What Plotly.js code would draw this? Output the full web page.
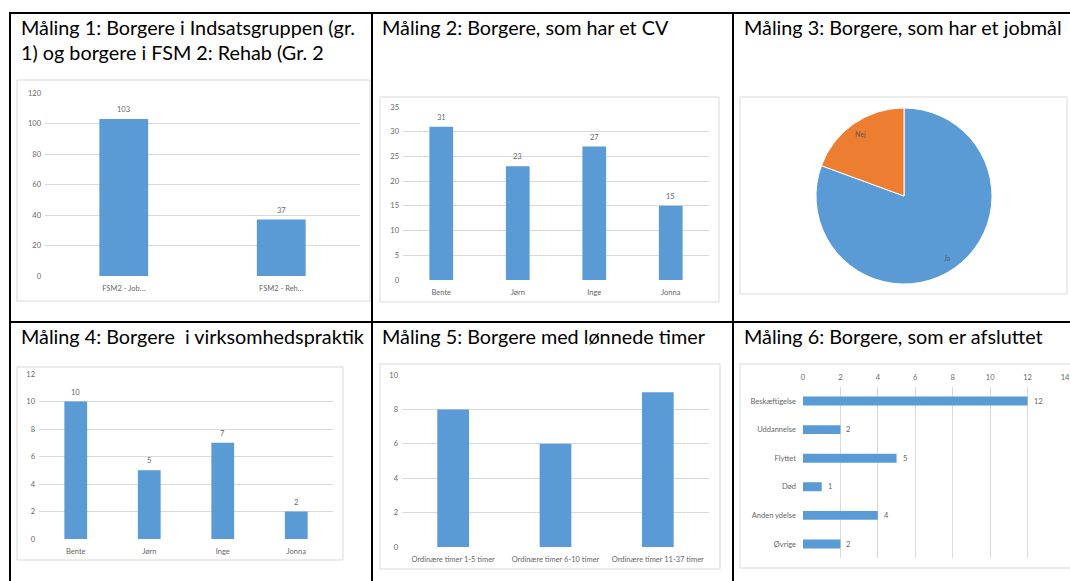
<!DOCTYPE html>
<html>
<head>
<meta charset="utf-8">
<script src="https://cdn.plot.ly/plotly-3.0.1.min.js"></script>
<style>html,body{margin:0;padding:0;background:#fff;}#chart{width:1070px;height:581px;}</style>
</head>
<body>
<div id="chart"></div>
<script>
// ---- Data ----
const titles = [
  ["Måling 1: Borgere i Indsatsgruppen (gr.", "1) og borgere i FSM 2: Rehab (Gr. 2"],
  ["Måling 2: Borgere, som har et CV"],
  ["Måling 3: Borgere, som har et jobmål"],
  ["Måling 4: Borgere  i virksomhedspraktik"],
  ["Måling 5: Borgere med lønnede timer"],
  ["Måling 6: Borgere, som er afsluttet"]
];
const m1Categories = ["FSM2 - Job…", "FSM2 - Reh…"];
const m1Values = [103, 37];
const m2Categories = ["Bente", "Jørn", "Inge", "Jonna"];
const m2Values = [31, 23, 27, 15];
const m3Labels = ["Ja", "Nej"];
const m3Values = [80.6, 19.4];
const m4Categories = ["Bente", "Jørn", "Inge", "Jonna"];
const m4Values = [10, 5, 7, 2];
const m5Categories = ["Ordinære timer 1-5 timer", "Ordinære timer 6-10 timer", "Ordinære timer 11-37 timer"];
const m5Values = [8, 6, 9];
const m6Categories = ["Beskæftigelse", "Uddannelse", "Flyttet", "Død", "Anden ydelse", "Øvrige"];
const m6Values = [12, 2, 5, 1, 4, 2];

// ---- Styling / layout helpers ----
const W = 1070, H = 581;
const px = x => x / W;
const py = y => 1 - y / H;
const BLUE = "#5B9BD5", ORANGE = "#ED7D31";
const GRID = "#D9D9D9";
const FONT = "Lato, 'Liberation Sans', sans-serif";
const LABEL_GRAY = "#666666";
const small = () => ({family: FONT, size: 7.5, color: LABEL_GRAY});

function vbar(cats, vals, xa, ya) {
  return {type: "bar", x: cats, y: vals, xaxis: xa, yaxis: ya,
    marker: {color: BLUE}, hoverinfo: "skip"};
}
function yAxis(domainPx, range, dtick, anchor) {
  return {domain: [py(domainPx[1]), py(domainPx[0])], range: range, dtick: dtick,
    anchor: anchor, showgrid: true, gridcolor: GRID, gridwidth: 1, zeroline: false,
    showline: false, ticks: "", tickfont: small(), fixedrange: true, ticklabelstandoff: 3};
}
function xAxis(domainPx, anchor) {
  return {domain: [px(domainPx[0]), px(domainPx[1])], anchor: anchor, type: "category",
    showgrid: false, zeroline: false, showline: false, ticks: "", tickfont: small(),
    fixedrange: true, ticklabelstandoff: 6};
}

// pie placement (layout)
const pieBox = {x0: 816, x1: 992, y0: 108, y1: 284};

const traces = [
  vbar(m1Categories, m1Values, "x", "y"),
  vbar(m2Categories, m2Values, "x2", "y2"),
  vbar(m4Categories, m4Values, "x3", "y3"),
  vbar(m5Categories, m5Values, "x4", "y4"),
  {type: "bar", orientation: "h", x: m6Values, y: m6Categories, xaxis: "x5", yaxis: "y5",
    marker: {color: BLUE}, hoverinfo: "skip"},
  {type: "pie", labels: m3Labels, values: m3Values, sort: false, direction: "clockwise",
    rotation: 0, marker: {colors: [BLUE, ORANGE], line: {color: "#FFFFFF", width: 1}},
    textinfo: "none",
    domain: {x: [px(pieBox.x0), px(pieBox.x1)], y: [py(pieBox.y1), py(pieBox.y0)]}, hoverinfo: "skip"}
];

const layout = {
  width: W, height: H, margin: {l: 0, r: 0, t: 0, b: 0},
  paper_bgcolor: "#FFFFFF", plot_bgcolor: "rgba(0,0,0,0)",
  showlegend: false, bargap: 0.69,
  xaxis: xAxis([45, 360], "y"),
  yaxis: yAxis([93, 276], [0, 120], 20, "x"),
  xaxis2: xAxis([403, 709], "y2"),
  yaxis2: yAxis([107, 280], [0, 35], 5, "x2"),
  xaxis3: xAxis([39, 333], "y3"),
  yaxis3: yAxis([374, 539], [0, 12], 2, "x3"),
  xaxis4: xAxis([402, 709], "y4"),
  yaxis4: yAxis([375, 547], [0, 10], 2, "x4"),
  xaxis5: {domain: [px(803), px(1065)], range: [0, 14], dtick: 2, anchor: "y5", side: "top",
    showgrid: true, gridcolor: GRID, zeroline: false, showline: false, ticks: "",
    tickfont: small(), fixedrange: true, ticklabelstandoff: 4},
  yaxis5: {domain: [py(558.3), py(386.7)], anchor: "x5", type: "category", autorange: "reversed",
    showgrid: false, zeroline: false, showline: false, ticks: "", tickfont: small(),
    fixedrange: true, ticklabelstandoff: 6},
  shapes: [],
  annotations: []
};

// chart boxes
[[17, 80, 370, 301], [380, 97, 719, 302], [740, 97, 1067, 294],
 [17, 367, 343, 560], [380, 364, 720, 569], [740, 364, 1080, 568]].forEach(b => {
  layout.shapes.push({type: "rect", xref: "paper", yref: "paper",
    x0: px(b[0]), x1: px(b[2]), y0: py(b[3]), y1: py(b[1]),
    line: {color: GRID, width: 1}, fillcolor: "rgba(0,0,0,0)", layer: "below"});
});
// table borders
const lines = [[9, 13, 1075, 13], [10, 12, 10, 590], [372, 12, 372, 590], [733, 12, 733, 590], [9, 322, 1075, 322]];
lines.forEach(l => layout.shapes.push({type: "line", xref: "paper", yref: "paper",
  x0: px(l[0]), x1: px(l[2]), y0: py(l[1]), y1: py(l[3]), line: {color: "#000000", width: 2}}));

// titles
const titlePos = [[19, 27], [380, 27], [742, 27], [19, 336], [380, 336], [742, 336]];
titles.forEach((t, i) => {
  t.forEach((line, j) => {
    layout.annotations.push({xref: "paper", yref: "paper", x: px(titlePos[i][0]),
      y: py(titlePos[i][1] + j * 25), xanchor: "left", yanchor: "middle", showarrow: false,
      text: line, font: {family: FONT, size: 19.8, color: "#000000"}});
  });
});

// data labels
function vLabels(cats, vals, xa, ya) {
  cats.forEach((c, i) => layout.annotations.push({xref: xa, yref: ya, x: c, y: vals[i],
    text: String(vals[i]), showarrow: false, yanchor: "bottom", yshift: 3, font: small()}));
}
vLabels(m1Categories, m1Values, "x", "y");
vLabels(m2Categories, m2Values, "x2", "y2");
vLabels(m4Categories, m4Values, "x3", "y3");
m6Categories.forEach((c, i) => layout.annotations.push({xref: "x5", yref: "y5", x: m6Values[i], y: c,
  text: String(m6Values[i]), showarrow: false, xanchor: "left", xshift: 4, font: small()}));

// pie slice labels, placed at each slice's mid-angle (computed from the values)
(function () {
  const total = m3Values.reduce((a, b) => a + b, 0);
  const cx = (pieBox.x0 + pieBox.x1) / 2, cy = (pieBox.y0 + pieBox.y1) / 2;
  const r = (pieBox.x1 - pieBox.x0) / 2;
  let cum = 0;
  m3Values.forEach((v, i) => {
    const mid = (cum + v / 2) / total * 2 * Math.PI; // clockwise from 12 o'clock
    cum += v;
    const lx = cx + 0.86 * r * Math.sin(mid);
    const ly = cy - 0.86 * r * Math.cos(mid);
    layout.annotations.push({xref: "paper", yref: "paper", x: px(lx), y: py(ly),
      text: m3Labels[i], showarrow: false, xanchor: "center", yanchor: "middle",
      font: {family: FONT, size: 7, color: "#595959"}});
  });
})();

Plotly.newPlot("chart", traces, layout, {staticPlot: true, displayModeBar: false});
</script>
</body>
</html>
